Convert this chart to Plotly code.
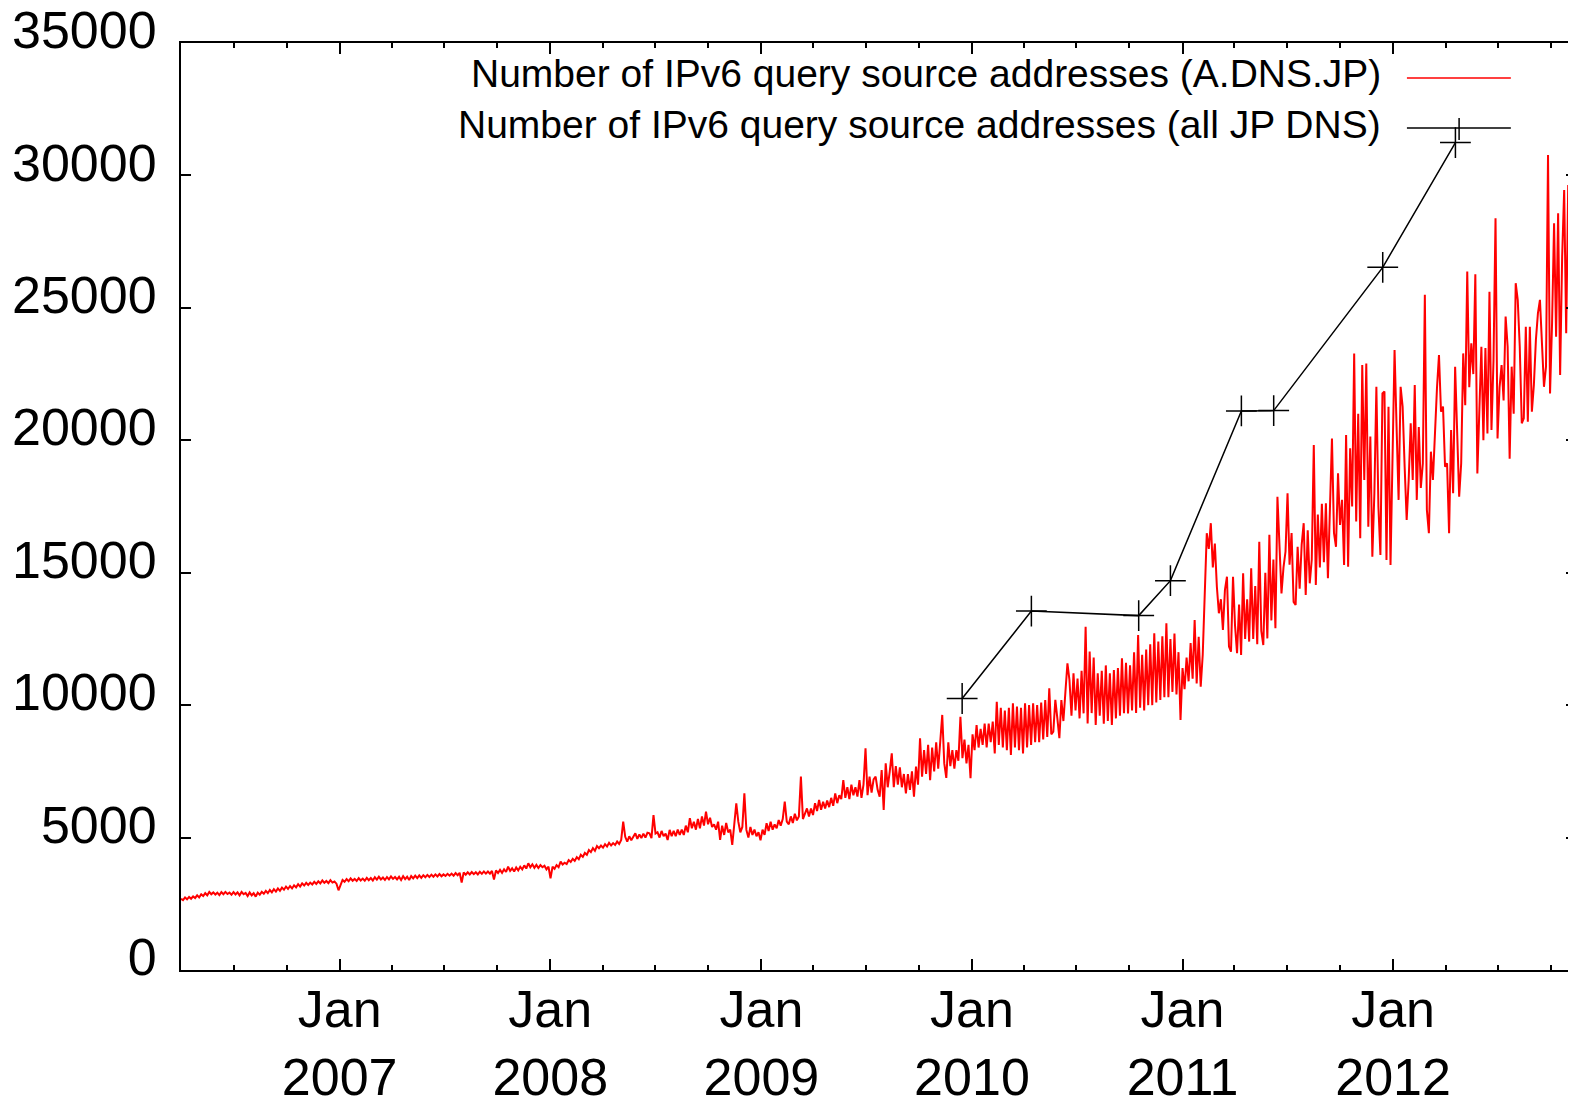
import pandas as pd
import plotly.graph_objects as go

# A.DNS.JP source addresses, one value every 3.5 days (weekday peak / weekend dip),
# first sample on 2006-04-01
adns_2006_2007 = [
    2690, 2640, 2740, 2670, 2760, 2690, 2780, 2720,
    2820, 2740, 2860, 2790, 2900, 2820, 2950, 2860,
    2930, 2850, 2920, 2830, 2940, 2860, 2950, 2870,
    2920, 2840, 2940, 2850, 2930, 2820, 2950, 2860,
    2910, 2790, 2930, 2820, 2900, 2770, 2920, 2840,
    2950, 2880, 2990, 2900, 3020, 2930, 3050, 2960,
    3080, 2990, 3110, 3030, 3150, 3060, 3170, 3080,
    3200, 3120, 3240, 3150, 3270, 3190, 3290, 3210,
    3300, 3230, 3330, 3250, 3350, 3270, 3380, 3290,
    3360, 3280, 3390, 3300, 3340, 3260, 3010, 3220,
    3400, 3330, 3430, 3350, 3460, 3370, 3440, 3360,
    3470, 3380, 3450, 3370, 3480, 3390, 3470, 3380,
    3500, 3410, 3520, 3420, 3490, 3400, 3510, 3420,
    3530, 3440, 3510, 3420, 3520, 3400, 3540, 3430,
    3520, 3400, 3550, 3460, 3560, 3470, 3570, 3480,
    3580, 3500, 3590, 3510, 3600, 3520, 3610, 3530,
    3620, 3540, 3610, 3550, 3630, 3560, 3640, 3560,
    3660, 3580, 3670, 3300, 3680, 3600, 3690, 3610,
    3700, 3620, 3690, 3610, 3710, 3630, 3720, 3640,
    3720, 3640, 3740, 3420, 3760, 3660, 3780, 3670,
    3800, 3700, 3900, 3740, 3840, 3720, 3870, 3760,
    3900, 3800, 3950, 3830, 4030, 3880, 3990, 3860,
    3970, 3850, 3960, 3880, 3940, 3800, 3900, 3460,
]
adns_2008_2009 = [
    3900, 3820, 3960, 3880, 4090, 3980, 4050, 4000,
    4150, 4080, 4200, 4120, 4260, 4180, 4350, 4270,
    4420, 4350, 4530, 4450, 4600, 4500, 4680, 4600,
    4700, 4620, 4750, 4660, 4800, 4700, 4790, 4720,
    4850, 4760, 4910, 5600, 5030, 4850, 5050, 4900,
    5030, 5160, 4950, 5120, 4980, 5150, 5000, 5180,
    5160, 4980, 5850, 5150, 5200, 5000, 5250, 5050,
    5150, 4910, 5290, 5050, 5250, 5050, 5300, 5100,
    5300, 5100, 5450, 5200, 5730, 5350, 5600, 5300,
    5700, 5350, 5800, 5450, 5980, 5500, 5750, 5400,
    5500, 5300, 5600, 4910, 5450, 5100, 5550, 5200,
    5300, 4720, 5500, 6290, 5600, 5200, 5400, 6670,
    5290, 5000, 5400, 5100, 5300, 5050, 5200, 4900,
    5300, 5100, 5540, 5250, 5600, 5300, 5500, 5350,
    5660, 5450, 5700, 6360, 5600, 5500, 5800, 5550,
    5900, 5650, 5800, 7300, 5700, 5920, 6100, 5800,
    6100, 5850, 6300, 6000, 6420, 6050, 6350, 6100,
    6400, 6150, 6500, 6200, 6670, 6300, 6600, 6450,
    7170, 6500, 6900, 6450, 7000, 6600, 6900, 6550,
    7170, 6500, 7000, 8370, 6600, 7300, 6700, 7200,
    7300, 6800, 6540, 7550, 6040, 7800, 6900, 7500,
    8180, 6900, 7700, 7000, 7650, 6900, 7400, 6670,
    7400, 6800, 7500, 6540, 7680, 7000, 8750, 7300,
    8300, 7400, 8500, 7170, 8400, 7500, 8600, 7600,
    8680, 9630, 7800, 7250, 8600, 7700, 8300, 7600,
    8300, 7900, 9560, 8000, 8700, 7800, 8500, 7240,
]
adns_2010_2011 = [
    8900, 8300, 9250, 8400, 9100, 8500, 9300, 8400,
    9300, 8600, 9380, 8180, 10130, 8500, 9900, 8400,
    9800, 8300, 9900, 8120, 10070, 8400, 9950, 8300,
    9900, 8180, 10070, 8400, 10000, 8500, 10070, 8600,
    10000, 8600, 10100, 8700, 10190, 8800, 10640, 8900,
    9000, 10200, 9500, 8750, 10190, 9400, 10500, 11580,
    10950, 9600, 11200, 9800, 11000, 9500, 11300, 9690,
    12960, 9310, 12020, 9700, 11800, 9250, 11200, 9600,
    11300, 9300, 11500, 9400, 11200, 9250, 11330, 9500,
    11400, 9600, 11770, 9700, 11600, 9690, 11500, 9800,
    12000, 9700, 12650, 9900, 11900, 9800, 12100, 10000,
    12300, 10000, 12710, 10100, 12400, 10200, 12600, 10300,
    13090, 10300, 12500, 10500, 12700, 10400, 12000, 9440,
    11400, 10600, 11800, 10900, 12340, 11000, 13210, 10820,
    12580, 10700, 11900, 14600, 16490, 15900, 16870, 15200,
    16100, 14470, 13470, 14000, 12840, 14350, 14850, 12210,
    12020, 14850, 13000, 11960, 13800, 11890, 14980, 12500,
    14000, 12400, 15170, 12500, 14500, 12300, 16170, 12800,
    12270, 15000, 12520, 16430, 13200, 15500, 12900, 17870,
    16000, 14220, 15200, 15800, 18000, 15300, 16500, 13900,
    13780, 15980, 14400, 16050, 16870, 14160, 16600, 14600,
    15500, 19820, 14540, 17200, 15200, 17600, 15400, 17620,
    14790, 17500, 20070, 16500, 15980, 18750, 16800, 17750,
    15290, 20200, 15230, 19700, 17500, 23280, 16930, 21000,
    16300, 22840, 18500, 22900, 16740, 20140, 15600, 18000,
]
adns_2012 = [
    22020, 17500, 15670, 21770, 21840, 15480, 21270, 15290,
    19440, 23410, 20500, 17750, 22020, 21270, 19000, 16990,
    18500, 20640, 18500, 22090, 17750, 20500, 18200, 19130,
    25490, 17370, 16490, 19570, 18500, 20500, 21960, 23220,
    21080, 21270, 19000, 19130, 16490, 20390, 18000, 22780,
    20260, 17870, 19130, 23280, 21320, 26370, 22000, 23660,
    22500, 26270, 18750, 21500, 23530, 20000, 23480, 20260,
    25610, 20390, 23000, 28380, 20070, 22000, 22840, 21500,
    24670, 23540, 19300, 22780, 21000, 25930, 25300, 23540,
    20640, 20830, 24290, 20700, 24290, 21080, 22090, 23790,
    24790, 25300, 23500, 22020, 22780, 30770, 21770, 24410,
    28190, 23910, 28570, 22470, 26930, 29450, 24040, 29640,
    27940, 27750, 24670, 26000,
]

# all JP DNS servers, sparse survey points
all_jp_dates = ["2009-12-15", "2010-04-14", "2010-10-17", "2010-12-11",
                "2011-04-13", "2011-06-08", "2011-12-14", "2012-04-18"]
all_jp_counts = [10250, 13550, 13380, 14700, 21110, 21120, 26530, 31240]

series_names = [
    "Number of IPv6 query source addresses (A.DNS.JP)",
    "Number of IPv6 query source addresses (all JP DNS)",
]
y_ticks = [0, 5000, 10000, 15000, 20000, 25000, 30000, 35000]

adns_counts = adns_2006_2007 + adns_2008_2009 + adns_2010_2011 + adns_2012
adns_dates = pd.date_range("2006-04-01", periods=len(adns_counts), freq="84h")

FONT = "Liberation Sans, Arial, sans-serif"

fig = go.Figure()
fig.add_trace(go.Scatter(
    x=adns_dates, y=adns_counts, mode="lines",
    line=dict(color="#ff0000", width=2), name=series_names[0],
))
fig.add_trace(go.Scatter(
    x=all_jp_dates, y=all_jp_counts, mode="lines+markers",
    line=dict(color="black", width=1.5),
    marker=dict(symbol="cross-thin", size=22, line=dict(color="black", width=1.5)),
    name=series_names[1], yaxis="y2",
))

# hand-made legend: right-aligned text with the line sample on the right
legend_rows = [(0.9666, 0.9622, "#ff0000"), (0.9126, 0.9083, "black")]
for name, (ty, ly, col) in zip(series_names, legend_rows):
    fig.add_annotation(
        x=0.8616, y=ty, xref="paper", yref="paper", text=name, showarrow=False,
        xanchor="right", yanchor="middle", font=dict(family=FONT, size=39, color="black"),
    )
    fig.add_shape(type="line", xref="paper", yref="paper", x0=0.8788, x1=0.9533,
                  y0=ly, y1=ly, line=dict(color=col, width=1.5))
fig.add_shape(type="line", xref="paper", yref="paper", x0=0.9162, x1=0.9162,
              y0=0.8954, y1=0.9191, line=dict(color="black", width=1.5))

# the page body keeps its default 8px margin, so the figure is 8px smaller
fig.update_layout(
    width=1568, height=1091,
    margin=dict(l=173, r=0, t=35, b=129, autoexpand=False),
    paper_bgcolor="white", plot_bgcolor="white",
    showlegend=False,
    font=dict(family=FONT, size=52, color="black"),
    xaxis=dict(
        type="date", range=["2006-04-01", "2012-11-13"], automargin=False,
        showgrid=False, zeroline=False,
        showline=True, linecolor="black", linewidth=2, mirror="ticks",
        ticks="inside", ticklen=11, tickwidth=1.5, tickcolor="black",
        tick0="2007-01-01", dtick="M12", tickformat="%b\n%Y",
        ticklabelstandoff=-7,
        tickfont=dict(family=FONT, size=52, color="black"),
        minor=dict(dtick="M3", tick0="2007-01-01", ticks="inside", ticklen=5,
                   tickwidth=1.5, tickcolor="black", showgrid=False),
    ),
    yaxis=dict(
        range=[0, 35000], tickvals=y_ticks, ticktext=[str(v) for v in y_ticks],
        automargin=False, showgrid=False, zeroline=False,
        showline=True, linecolor="black", linewidth=2,
        ticks="inside", ticklen=10, tickwidth=1.5, tickcolor="black",
        ticklabelstandoff=12, ticklabelshift=-13, ticklabeloverflow="allow",
        tickfont=dict(family=FONT, size=52, color="black"),
    ),
    yaxis2=dict(
        range=[0, 35000], tickvals=y_ticks, overlaying="y", side="right",
        automargin=False, showgrid=False, zeroline=False, showline=False,
        showticklabels=False,
        ticks="inside", ticklen=10, tickwidth=1.5, tickcolor="black",
    ),
)

fig.write_html("out.html")
